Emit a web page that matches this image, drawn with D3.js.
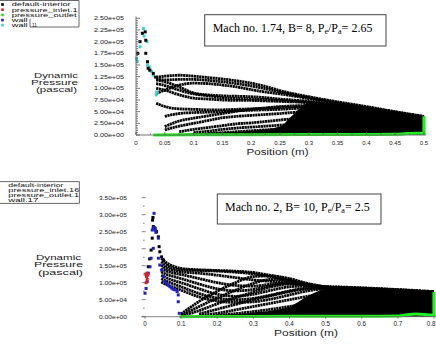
<!DOCTYPE html>
<html><head><meta charset="utf-8">
<script src="https://cdn.jsdelivr.net/npm/d3@7"></script>
<style>body{margin:0;background:#fff}svg{display:block}</style>
</head><body>
<svg id="c" width="436" height="347"></svg>
<script>
// ================= DATA =================
// curve values in kPa (thousands of pascal)
// ---- top chart (Mach 1.74) ----
const topLegendNames = ["default-interior","pressure_inlet.1","pressure_outlet","wall","11"];
const topLegendColors = ["#000000","#e02020","#22dd22","#2020c0","#40d0d0"];
const topYTicks = [0,25000,50000,75000,100000,125000,150000,175000,200000,225000,250000];
const topXTicks = [0,0.05,0.1,0.15,0.2,0.25,0.3,0.35,0.4,0.45,0.5];
const topXTickLabels = ["0","0.05","0.1","0.15","0.2","0.25","0.3","0.35","0.4","0.45","0.5"];
const topXs = [0.035,0.05,0.075,0.1,0.125,0.15,0.175,0.2,0.225,0.25,0.3,0.35,0.4,0.45,0.5];
const topCurveA = [124,126,128,126,123,120,116,111,104,95,82,71,61,50,40];
const topCurveB = [120,118,119,119,117,114,110,105,99,92,80,69,59,49,39];
const topCurveC = [118,114,103,90,86,84,83,82,80,77,72,64,55,46,37];
const topCurveD = [89,96,107,111,110,107,103,97,92,88,78,67,57,47,37];
const topCurveN = [110,106,96,88,84,80,78,77,76,74,70,63,54,45,36];
const topCurveE = [100,96,86,79,77,75,74,74,73,72,69,62,53,44,36];
const topCurveF = [68,61,56,55,54,54,55,56,57,59,61,57,50,42,34];
const topCurveO = [null,40,46,48,49,50,52,53,54,55,58,55,48,41,33];
const topCurveG = [null,18,30,36,41,46,51,55,58,61,63,56,48,40,32];
const topCurveH = [null,11,19,25,31,37,40,42,44,46,50,50,45,38,30];
const topCurveI = [null,null,7,12,16,20,24,26,29,32,38,42,40,35,28];
const topCurveJ = [null,null,null,5,8,12,15,17,19,21,27,32,34,31,25];
const topCurveK = [null,null,null,null,3,5,7,9,11,12,17,22,25,26,22];
const topCurveL = [null,null,null,null,null,2,3,4,5,6,9,13,17,19,18];
const topCurveM = [null,null,null,null,null,null,null,1,1.5,2,4,7,10,12,12];
const topDenseX = [0.035,0.1,0.15,0.2,0.25,0.27,0.3,0.35,0.4,0.45,0.5];
const topDenseY = [1,4,6,9,18,40,68,66,58,48,39];
const topInletBlack = [[0.003,175],[0.007,200],[0.011,218],[0.016,221],[0.017,203],[0.017,175],[0.02,157],[0.021,143],[0.024,139],[0.03,132],[0.034,124]];
const topInletCyan = [[0.001,164],[0.002,158],[0.007,189],[0.013,228],[0.014,212],[0.019,200],[0.02,150],[0.023,146],[0.024,139],[0.027,136],[0.03,128],[0.035,86],[0.036,92]];
const topGreenX = [0.03,0.1,0.2,0.3,0.4,0.45,0.47,0.49,0.5];
const topGreenY = [0,0.5,0.8,1,1.2,1.5,3,4,3];
const topOutlet = [0,40];

// ---- bottom chart (Mach 2) ----
const botLegendNames = ["default-interior","pressure_inlet.16","pressure_outlet.16","wall.17"];
const botYTicks = [0,50000,100000,150000,200000,250000,300000,350000];
const botXTicks = [0,0.1,0.2,0.3,0.4,0.5,0.6,0.7,0.8];
const botXTickLabels = ["0","0.1","0.2","0.3","0.4","0.5","0.6","0.7","0.8"];
const botXs = [0.045,0.06,0.08,0.1,0.15,0.2,0.25,0.3,0.35,0.4,0.45,0.5,0.55,0.6,0.7,0.8];
const botCurveP1 = [172,158,148,142,138,136,134,130,121,112,98,89,87,85,80,74];
const botCurveP2 = [162,150,142,138,136,134,131,126,117,106,94,87,85,83,78,73];
const botCurveP3 = [152,142,136,132,128,122,115,108,104,100,92,86,84,82,77,72];
const botCurveP4 = [142,134,128,124,112,100,92,90,96,100,94,86,83,81,76,71];
const botCurveP5 = [132,124,118,112,96,82,76,80,92,98,93,85,82,80,76,70];
const botCurveP6 = [122,114,106,100,82,66,60,66,78,88,90,85,82,80,75,69];
const botCurveP7 = [112,104,96,88,68,55,50,54,64,76,84,84,81,79,74,68];
const botCurveP8 = [102,94,86,78,58,46,42,44,52,64,76,82,80,78,73,67];
const botCurveR1 = [null,null,null,8,45,75,100,118,120,110,96,88,86,84,79,72];
const botCurveR2 = [null,null,null,4,30,55,78,98,110,106,95,87,84,82,77,71];
const botCurveR3 = [null,null,null,2,18,38,56,72,88,96,94,87,84,82,77,70];
const botCurveR4 = [null,null,null,null,8,22,36,50,62,74,82,84,82,80,76,69];
const botCurveR5 = [null,null,null,null,3,10,20,30,40,50,60,70,76,77,74,68];
const botCurveR6 = [null,null,null,null,null,4,9,15,22,30,38,48,58,64,68,66];
const botCurveR7 = [null,null,null,null,null,null,null,5,9,14,20,28,36,44,52,55];
const botCurveR8 = [null,null,null,null,null,null,2,4,6,9,13,18,24,30,40,45];
const botDenseX = [0.1,0.2,0.3,0.4,0.45,0.5,0.55,0.6,0.7,0.8];
const botDenseY = [1,5,12,30,60,82,85,83,78,72];
const botInletRed = [[0.002,125],[0.004,118],[0.006,110],[0.003,100],[0.008,122],[0.005,128]];
const botInletBlue = [[0.0,69],[0.003,83],[0.006,103],[0.009,128],[0.014,147],[0.017,172],[0.023,201],[0.025,304],[0.02,255],[0.023,260],[0.026,262],[0.028,255],[0.03,248],[0.037,231],[0.037,172],[0.041,152],[0.046,137],[0.051,118],[0.055,103],[0.06,97],[0.064,93],[0.069,88],[0.074,84],[0.078,81],[0.083,79],[0.089,74],[0.092,64],[0.092,44],[0.095,10]];
const botInletBlack = [[0.005,123],[0.009,147],[0.013,170],[0.017,196],[0.02,231],[0.021,284],[0.022,292],[0.023,265],[0.028,260],[0.032,250],[0.037,235],[0.039,206],[0.041,191],[0.046,176],[0.051,167]];
const botGreenX = [0.095,0.2,0.4,0.6,0.7,0.72,0.75,0.78,0.8];
const botGreenY = [0,0.5,1,1.5,2,5,8,6,4];
const botOutlet = [0,73];

// ================= DRAW =================
const svg = d3.select("#c");
const SANS = "'Liberation Sans', Arial, sans-serif";
const fmtE = v => v === 0 ? "0.00e+00" : d3.format(".2e")(v).replace(/e([+-])(\d)$/, "e$10$2");

function drawChart(o) {
  const X = d3.scaleLinear().domain(o.xDomain).range(o.xRange);
  const Y = d3.scaleLinear().domain(o.yDomain).range(o.yRange);
  const g = svg.append("g");
  const area = d3.area().x(d => X(d[0])).y0(Y(0)).y1(d => Y(d[1] * 1000)).curve(d3.curveMonotoneX);
  g.append("path").datum(o.denseX.map((x, i) => [x, o.denseY[i]]))
    .attr("d", area).attr("fill", "#000");
  const line = d3.line().defined(d => d[1] != null).x(d => X(d[0])).y(d => Y(d[1] * 1000)).curve(d3.curveMonotoneX);
  o.curves.forEach(c => {
    g.append("path").datum(o.xs.map((x, i) => [x, c[i]]))
      .attr("d", line).attr("fill", "none").attr("stroke", "#000")
      .attr("stroke-width", 2.8).attr("stroke-dasharray", "2.2 0.5");
  });
  o.scatter.forEach(s => {
    g.selectAll(null).data(s.pts).enter().append("rect")
      .attr("x", d => X(d[0]) - 1.5).attr("y", d => Y(d[1] * 1000) - 1.5)
      .attr("width", 3).attr("height", 3).attr("fill", s.color);
  });
  const gl = d3.line().x(d => X(d[0])).y(d => Y(d[1] * 1000)).curve(d3.curveMonotoneX);
  g.append("path").datum(o.greenX.map((x, i) => [x, o.greenY[i]]))
    .attr("d", gl).attr("fill", "none").attr("stroke", "#22ee22").attr("stroke-width", 3);
  g.append("line").attr("x1", X(o.xDomain[1])).attr("x2", X(o.xDomain[1]))
    .attr("y1", Y(o.outlet[0] * 1000)).attr("y2", Y(o.outlet[1] * 1000))
    .attr("stroke", "#22ee22").attr("stroke-width", 3.2);
  return {X, Y, g};
}

// ---------- TOP ----------
const T = drawChart({
  xDomain: [0, 0.5], xRange: [136, 424], yDomain: [0, 250000], yRange: [135, 18.3],
  xs: topXs,
  curves: [topCurveA, topCurveB, topCurveC, topCurveD, topCurveN, topCurveE, topCurveF, topCurveO, topCurveG, topCurveH, topCurveI, topCurveJ, topCurveK, topCurveL, topCurveM],
  denseX: topDenseX, denseY: topDenseY,
  scatter: [{pts: topInletCyan, color: "#40d0d0"}, {pts: topInletBlack, color: "#000"}],
  greenX: topGreenX, greenY: topGreenY, outlet: topOutlet
});
{
  const {X, Y} = T;
  const ax = svg.append("g").attr("stroke", "#555").attr("stroke-width", 0.8);
  ax.append("line").attr("x1", X(0)).attr("x2", X(0)).attr("y1", 16.5).attr("y2", Y(0));
  ax.append("line").attr("x1", X(0)).attr("x2", X(0.5) + 2).attr("y1", Y(0)).attr("y2", Y(0));
  d3.range(0, 250001, 5000).forEach(v => {
    const major = v % 25000 === 0;
    ax.append("line").attr("x1", X(0)).attr("x2", X(0) + (major ? 4 : 2)).attr("y1", Y(v)).attr("y2", Y(v));
  });
  d3.range(0, 0.5001, 0.025).forEach(v => {
    const major = Math.abs(v / 0.05 - Math.round(v / 0.05)) < 1e-6;
    ax.append("line").attr("x1", X(v)).attr("x2", X(v)).attr("y1", Y(0)).attr("y2", Y(0) - (major ? 3 : 1.5));
  });
  svg.selectAll(null).data(topYTicks).enter().append("text")
    .attr("x", 124).attr("y", d => Y(d)).attr("dy", "0.35em").attr("text-anchor", "end")
    .attr("font-family", SANS).attr("font-size", 6).attr("fill", "#222")
    .attr("textLength", 30).attr("lengthAdjust", "spacingAndGlyphs").text(fmtE);
  svg.selectAll(null).data(topXTicks).enter().append("text")
    .attr("x", d => X(d)).attr("y", 145).attr("text-anchor", "middle")
    .attr("font-family", SANS).attr("font-size", 6).attr("fill", "#222")
    .text((d, i) => topXTickLabels[i]);
  svg.append("text").attr("x", 246.5).attr("y", 154.5).attr("font-family", SANS).attr("font-size", 8.5)
    .attr("fill", "#222").attr("textLength", 62).attr("lengthAdjust", "spacingAndGlyphs").text("Position (m)");
  [["Dynamic", 34, 78, 77.5], ["Pressure", 31, 78, 84.5], ["(pascal)", 36, 77, 91.5]].forEach(t => {
    svg.append("text").attr("x", t[1]).attr("y", t[3]).attr("font-family", SANS).attr("font-size", 7)
      .attr("fill", "#222").attr("textLength", t[2] - t[1]).attr("lengthAdjust", "spacingAndGlyphs").text(t[0]);
  });
  const lg = svg.append("g");
  lg.append("path").attr("d", "M-1,0.5 H79 V27 H30 V19").attr("fill", "none").attr("stroke", "#444").attr("stroke-width", 0.8);
  const rowsY = [4.5, 9.7, 14.9, 20.1, 25.1];
  topLegendNames.forEach((n, i) => {
    lg.append("rect").attr("x", 1.2).attr("y", rowsY[i] - 1.3).attr("width", 2.6).attr("height", 2.6).attr("fill", topLegendColors[i]);
  });
  const lens = [59, 66, 65, 16, 5];
  topLegendNames.forEach((n, i) => {
    lg.append("text").attr("x", i === 4 ? 32 : 11.7).attr("y", rowsY[i]).attr("dy", "0.35em")
      .attr("font-family", SANS).attr("font-size", 5.4).attr("fill", "#111")
      .attr("textLength", lens[i]).attr("lengthAdjust", "spacingAndGlyphs").text(n);
  });
  lg.append("text").attr("x", 11.7).attr("y", rowsY[4]).attr("dy", "0.35em")
    .attr("font-family", SANS).attr("font-size", 5.4).attr("fill", "#111")
    .attr("textLength", 16).attr("lengthAdjust", "spacingAndGlyphs").text("wall");
  svg.append("rect").attr("x", 204.7).attr("y", 14.7).attr("width", 181.3).attr("height", 31.3)
    .attr("fill", "#fff").attr("stroke", "#444").attr("stroke-width", 1);
  const t1 = svg.append("text").attr("x", 212.7).attr("y", 31.5).attr("font-family", "'Liberation Serif', 'Times New Roman', serif")
    .attr("font-size", 12).attr("fill", "#000");
  t1.append("tspan").text("Mach no. 1.74, B= 8, P");
  t1.append("tspan").attr("dy", 2.5).attr("font-size", 8).text("e");
  t1.append("tspan").attr("dy", -2.5).text("/P");
  t1.append("tspan").attr("dy", 2.5).attr("font-size", 8).text("a");
  t1.append("tspan").attr("dy", -2.5).text("= 2.65");
}

// ---------- BOTTOM ----------
const B = drawChart({
  xDomain: [0, 0.8], xRange: [145, 434], yDomain: [0, 350000], yRange: [316.7, 197.7],
  xs: botXs,
  curves: [botCurveP1, botCurveP2, botCurveP3, botCurveP4, botCurveP5, botCurveP6, botCurveP7, botCurveP8, botCurveR1, botCurveR2, botCurveR3, botCurveR4, botCurveR5, botCurveR6, botCurveR7, botCurveR8],
  denseX: botDenseX, denseY: botDenseY,
  scatter: [{pts: botInletBlack, color: "#000"}, {pts: botInletBlue, color: "#2020c0"}, {pts: botInletRed, color: "#e02020"}],
  greenX: botGreenX, greenY: botGreenY, outlet: botOutlet
});
{
  const {X, Y} = B;
  const ax = svg.append("g").attr("stroke", "#666").attr("stroke-width", 0.8);
  ax.append("line").attr("x1", 141.5).attr("x2", 436).attr("y1", Y(0)).attr("y2", Y(0));
  d3.range(0, 350001, 25000).forEach(v => {
    const major = v % 50000 === 0;
    ax.append("line").attr("x1", major ? 141.7 : 143).attr("x2", major ? 145.7 : 144.7).attr("y1", Y(v)).attr("y2", Y(v));
  });
  botXTicks.forEach(v => {
    ax.append("line").attr("x1", X(v)).attr("x2", X(v)).attr("y1", Y(0)).attr("y2", Y(0) + 2);
  });
  svg.selectAll(null).data(botYTicks).enter().append("text")
    .attr("x", 127).attr("y", d => Y(d)).attr("dy", "0.35em").attr("text-anchor", "end")
    .attr("font-family", SANS).attr("font-size", 6).attr("fill", "#222")
    .attr("textLength", 28).attr("lengthAdjust", "spacingAndGlyphs").text(fmtE);
  svg.selectAll(null).data(botXTicks).enter().append("text")
    .attr("x", (d, i) => i === botXTicks.length - 1 ? 435.5 : X(d)).attr("y", 326.3)
    .attr("text-anchor", (d, i) => i === botXTicks.length - 1 ? "end" : "middle")
    .attr("font-family", SANS).attr("font-size", 6.3).attr("fill", "#222")
    .text((d, i) => botXTickLabels[i]);
  svg.append("text").attr("x", 274).attr("y", 336.3).attr("font-family", SANS).attr("font-size", 8.5)
    .attr("fill", "#222").attr("textLength", 64).attr("lengthAdjust", "spacingAndGlyphs").text("Position (m)");
  [["Dynamic", 36, 81, 259.5], ["Pressure", 34, 83, 267], ["(pascal)", 38, 83, 274.5]].forEach(t => {
    svg.append("text").attr("x", t[1]).attr("y", t[3]).attr("font-family", SANS).attr("font-size", 7)
      .attr("fill", "#222").attr("textLength", t[2] - t[1]).attr("lengthAdjust", "spacingAndGlyphs").text(t[0]);
  });
  const clip = svg.append("clipPath").attr("id", "lg2");
  clip.append("rect").attr("x", 0).attr("y", 181.7).attr("width", 78.8).attr("height", 21.6);
  const lg = svg.append("g");
  lg.append("rect").attr("x", -1).attr("y", 181.7).attr("width", 80.3).attr("height", 21.6)
    .attr("fill", "#fff").attr("stroke", "#444").attr("stroke-width", 0.8);
  const rowsY = [184.9, 190, 195.1, 200.2];
  const lens = [55, 71, 76, 30];
  botLegendNames.forEach((n, i) => {
    lg.append("text").attr("x", 8.3).attr("y", rowsY[i]).attr("dy", "0.35em").attr("clip-path", "url(#lg2)")
      .attr("font-family", SANS).attr("font-size", 5.4).attr("fill", "#111")
      .attr("textLength", lens[i]).attr("lengthAdjust", "spacingAndGlyphs").text(n);
  });
  svg.append("rect").attr("x", 217.3).attr("y", 194).attr("width", 163.7).attr("height", 30)
    .attr("fill", "#fff").attr("stroke", "#444").attr("stroke-width", 1);
  const t2 = svg.append("text").attr("x", 225).attr("y", 210.5).attr("font-family", "'Liberation Serif', 'Times New Roman', serif")
    .attr("font-size", 12).attr("fill", "#000");
  t2.append("tspan").text("Mach no. 2, B= 10, P");
  t2.append("tspan").attr("dy", 2.5).attr("font-size", 8).text("e");
  t2.append("tspan").attr("dy", -2.5).text("/P");
  t2.append("tspan").attr("dy", 2.5).attr("font-size", 8).text("a");
  t2.append("tspan").attr("dy", -2.5).text("= 2.5");
}
</script>
</body></html>
